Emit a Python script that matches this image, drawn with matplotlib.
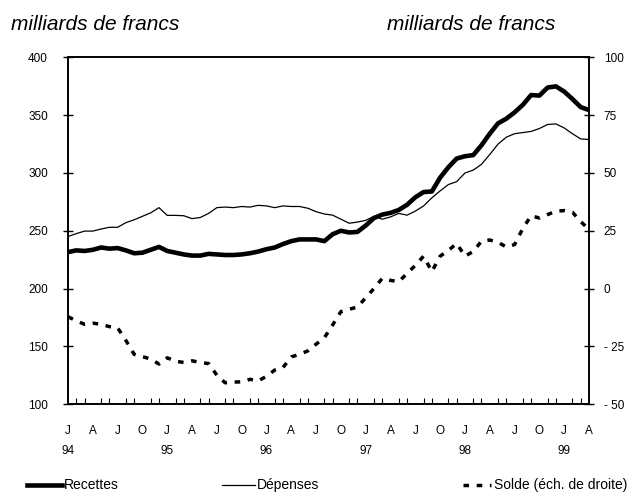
import numpy as np
import matplotlib
matplotlib.use("Agg")
import matplotlib.pyplot as plt
from matplotlib.lines import Line2D
from matplotlib.ticker import FixedLocator, FuncFormatter

plt.rcParams["font.family"] = ["Liberation Sans", "DejaVu Sans"]

# monthly data, Jan 94 .. Apr 99 (milliards de francs)
recettes = [231.5, 233, 232.5, 233.5, 235.5, 234.5, 235, 233, 230.5, 231, 233.5, 236,
            232.5, 231, 229.5, 228.5, 228.5, 230, 229.5, 229, 229, 229.5, 230.5, 232,
            234, 235.5, 238.5, 241, 242.5, 242.5, 242.5, 241, 247, 250, 248.5, 249,
            254.5, 261, 264, 265.5, 268, 272.5, 279, 283.5, 284, 296, 305, 312.5,
            314.5, 315.5, 324, 334, 343, 347, 352.5, 359, 367.5, 367, 374, 375,
            370.5, 364, 357, 354.5]
depenses = [245, 247.5, 249.7, 249.7, 251.5, 253, 253, 257, 259.5, 262.5, 265.5, 270,
            263.3, 263.3, 263, 260.5, 261.5, 265, 270, 270.5, 270, 271, 270.5, 272,
            271.5, 270, 271.5, 271, 271, 269.5, 266.5, 264.5, 263.5, 260, 256.5, 257.5,
            259, 262.5, 260, 262, 265, 263.5, 267, 271.5, 278.5, 284.5, 290, 292.5,
            300, 302.5, 307.5, 316, 325, 331, 334, 335, 336, 338.5, 342, 342.5,
            339, 334, 329.5, 329]
solde = [-12.2, -14, -15.5, -15, -15.5, -16.5, -17, -22.5, -28.5, -29.5, -30.5, -32.7,
         -30, -31.5, -32, -31.3, -32, -32.5, -37.5, -40.8, -40.5, -40.4, -39.3, -40,
         -38, -35.3, -34.2, -29.6, -28.5, -27, -24.1, -21.3, -15.8, -10, -9, -8,
         -4, 0, 4.4, 3.5, 3, 6.5, 10, 14, 7.3, 14, 16.5, 19.5,
         14, 16, 20.5, 21, 20, 18, 19, 26, 31.5, 30.5, 32, 33.5,
         33.7, 33, 29, 25.5]

month_letters = ["J", "A", "J", "O"] * 5 + ["J", "A"]
years = ["94", "95", "96", "97", "98", "99"]

x = np.arange(len(recettes))

fig = plt.figure(figsize=(6.29, 4.93), dpi=100)
ax = fig.add_axes([0.1081, 0.1805, 0.8283, 0.7029])
ax2 = ax.twinx()

ax.plot(x, depenses, color="black", lw=0.9)
ax.plot(x, recettes, color="black", lw=3.3, solid_joinstyle="round")
ax2.plot(x, solde, color="black", lw=2.5, linestyle=(0, (1.6, 2.2)),
         dash_capstyle="butt")

ax.set_xlim(0, len(x) - 1)
ax.set_ylim(100, 400)
ax2.set_ylim(-50, 100)
ax.set_yticks(np.arange(100, 401, 50))
ax2.set_yticks(np.arange(-50, 101, 25))
ax2.yaxis.set_major_formatter(FuncFormatter(
    lambda v, p: f"- {abs(int(v))}" if v < 0 else f"{int(v)}"))

ax.tick_params(axis="y", direction="inout", length=7, width=1, labelsize=8.5, pad=11)
ax2.tick_params(axis="y", direction="inout", length=7, width=1, labelsize=8.5, pad=7)

ax.xaxis.set_major_locator(FixedLocator(x[::3]))
ax.set_xticklabels(month_letters)
ax.xaxis.set_minor_locator(FixedLocator(x[1:]))
ax.tick_params(axis="x", which="major", length=0, labelsize=8.5, pad=15)
ax.tick_params(axis="x", which="minor", direction="in", length=4, width=0.8)

for k, yr in enumerate(years):
    ax.text(x[12 * k], -0.137, yr, transform=ax.get_xaxis_transform(),
            ha="center", va="center", fontsize=8.5)

for a in (ax, ax2):
    for s in a.spines.values():
        s.set_linewidth(1.2)

fig.text(0.018, 0.951, "milliards de francs", fontsize=15, style="italic",
         ha="left", va="center")
fig.text(0.615, 0.951, "milliards de francs", fontsize=15, style="italic",
         ha="left", va="center")

# legend
W, H = 629, 493
ly = 1 - 485 / H
items = [((27, 62), dict(lw=3.3), "Recettes", 64),
         ((222, 255), dict(lw=0.9), "Dépenses", 257),
         ((463, 491), dict(lw=2.5, linestyle=(0, (1.6, 2.2)), dash_capstyle="butt"),
          "Solde (éch. de droite)", 494)]
for (x0, x1), kw, label, tx in items:
    fig.add_artist(Line2D([x0 / W, x1 / W], [ly, ly], color="black", **kw))
    fig.text(tx / W, ly, label, fontsize=10, ha="left", va="center")

fig.savefig("out.png", dpi=100)
